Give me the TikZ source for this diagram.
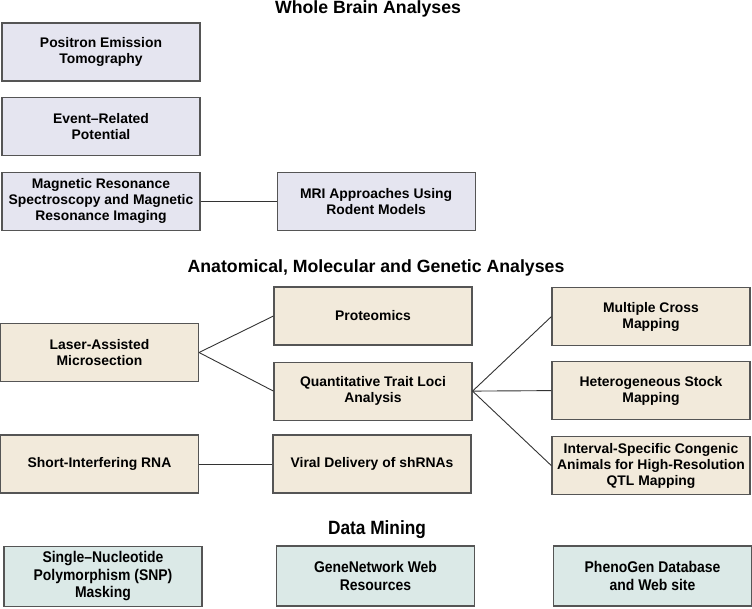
\documentclass[tikz,border=0pt]{standalone}
\usepackage{fontspec}
\setmainfont{Liberation Sans}
\newfontfamily\narrowsans[FakeStretch=0.9,Ligatures=TeX]{Liberation Sans}
\usetikzlibrary{positioning}
\definecolor{wbfill}{RGB}{229,229,240}
\definecolor{amfill}{RGB}{242,234,219}
\definecolor{dmfill}{RGB}{219,233,231}
\definecolor{edge}{RGB}{85,85,85}

\begin{document}
\begin{tikzpicture}[
    x=1pt, y=-1pt,
    box/.style={
      rectangle, draw=edge, line width=1.1pt,
      align=center, inner sep=1pt,
      minimum width=198pt, minimum height=58pt,
      font=\fontsize{13.9}{16}\selectfont\bfseries
    },
    wbbox/.style={box, fill=wbfill},
    ambox/.style={box, fill=amfill},
    dmbox/.style={box, fill=dmfill, minimum height=60pt,
      font=\narrowsans\fontsize{15.5}{17.5}\selectfont\bfseries},
    heading/.style={font=\fontsize{17.7}{20}\selectfont\bfseries,
      inner sep=0pt, anchor=base},
    link/.style={draw=black!80, line width=0.9pt}
  ]
    \useasboundingbox (0,0) rectangle (752,608);

    \node[heading] (hwb) at (368,13.5) {Whole Brain Analyses};
    \node[wbbox] (pet) at (101,52) {Positron Emission\\Tomography};
    \node[wbbox, below=15pt of pet] (erp) {Event--Related\\Potential};
    \node[wbbox, below=16pt of erp] (mrs) {Magnetic Resonance\\
      Spectroscopy and Magnetic\\Resonance Imaging};
    \node[wbbox, right=76pt of mrs] (mri) {MRI Approaches Using\\Rodent Models};

    \node[heading] (ham) at (376,272) {Anatomical, Molecular and Genetic Analyses};
    \node[ambox] (lam) at (99.5,352.5) {Laser-Assisted\\Microsection};
    \node[ambox] (prot) at (373,316) {Proteomics};
    \node[ambox, below=16pt of prot] (qtl) {Quantitative Trait Loci\\Analysis};
    \node[ambox] (mcm) at (651,316.5) {Multiple Cross\\Mapping};
    \node[ambox, below=15pt of mcm] (hsm) {Heterogeneous Stock\\Mapping};
    \node[ambox, below=16pt of hsm] (isc) {Interval-Specific Congenic\\
      Animals for High-Resolution\\QTL Mapping};
    \node[ambox] (sir) at (99.5,464) {Short-Interfering RNA};
    \node[ambox] (vds) at (372,464) {Viral Delivery of shRNAs};

    \node[heading, font=\narrowsans\fontsize{19.2}{22}\selectfont\bfseries] (hdm) at (377,534) {Data Mining};
    \node[dmbox] (snp) at (103,576.5) {Single--Nucleotide\\Polymorphism (SNP)\\Masking};
    \node[dmbox] (gnw) at (375.5,576) {GeneNetwork Web\\Resources};
    \node[dmbox] (phg) at (652.5,576) {PhenoGen Database\\and Web site};

    \draw[link] (mrs) -- (mri);
    \draw[link] (lam.east) -- (prot.west);
    \draw[link] (lam.east) -- (qtl.west);
    \draw[link] (qtl.east) -- (mcm.west);
    \draw[link] (qtl.east) -- (hsm.west);
    \draw[link] (qtl.east) -- (isc.west);
    \draw[link] (sir) -- (vds);
  \end{tikzpicture}
\end{document}
